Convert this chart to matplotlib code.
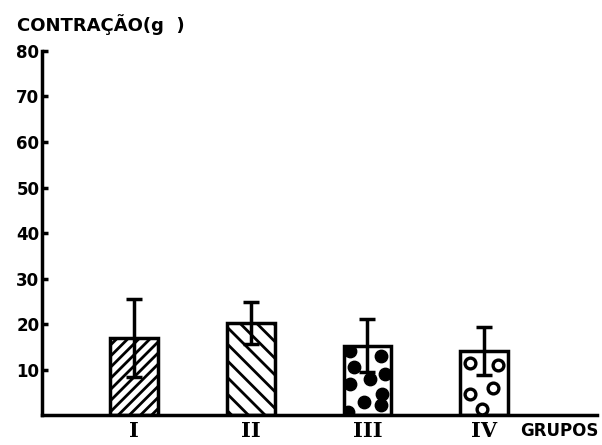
import numpy as np
import matplotlib
matplotlib.use("Agg")
import matplotlib.pyplot as plt

groups = ["I", "II", "III", "IV"]
means = [17.0, 20.2, 15.2, 14.0]
errors = [8.6, 4.6, 5.8, 5.3]
hatches = ["///", "\\\\", "", ""]

yticks = [10, 20, 30, 40, 50, 60, 70, 80]

plt.rcParams["hatch.linewidth"] = 2.0
INK = "black"

fig = plt.figure(figsize=(6.02, 4.45), dpi=100, facecolor="white")
ax = fig.add_axes([0.070, 0.0674, 0.922, 0.818])

x = np.arange(1, len(groups) + 1)
bars = ax.bar(x, means, width=0.41, color="white", edgecolor=INK,
              linewidth=2.5, hatch=hatches, zorder=2)

# dot patterns inside bars III and IV (fractions of bar width / height)
fill_fx = [0.13, 0.79, 0.21, 0.87, 0.56, 0.14, 0.80, 0.42, 0.79, 0.10]
fill_fy = [0.92, 0.86, 0.69, 0.60, 0.52, 0.45, 0.31, 0.19, 0.14, 0.04]
ring_fx = [0.21, 0.80, 0.21, 0.69, 0.45]
ring_fy = [0.82, 0.78, 0.33, 0.43, 0.10]

b3 = bars[2]
dots = ax.scatter([b3.get_x() + f * b3.get_width() for f in fill_fx],
                  [f * b3.get_height() for f in fill_fy],
                  s=80, color=INK, zorder=3)
dots.set_clip_path(b3)

b4 = bars[3]
rings = ax.scatter([b4.get_x() + f * b4.get_width() for f in ring_fx],
                   [f * b4.get_height() for f in ring_fy],
                   s=60, facecolor="white", edgecolor=INK, linewidth=2.4, zorder=3)
rings.set_clip_path(b4)

ax.errorbar(x, means, yerr=errors, fmt="none", ecolor=INK, elinewidth=2.5,
            capsize=6, capthick=2.5, zorder=4)

ax.set_xlim(0.21, 4.97)
ax.set_ylim(0, 80)
ax.set_yticks(yticks)
ax.set_yticklabels([str(t) for t in yticks], fontsize=12, fontweight="bold")
ax.tick_params(axis="y", direction="in", length=4, width=2.5, pad=2)
ax.set_xticks(x)
ax.set_xticklabels(groups, fontsize=15, fontweight="bold", family="DejaVu Serif")
ax.tick_params(axis="x", length=0, pad=4)

for s in ["top", "right"]:
    ax.spines[s].set_visible(False)
ax.spines["left"].set_linewidth(2.5)
ax.spines["bottom"].set_linewidth(2.5)

fig.text(0.028, 0.944, "CONTRAÇÃO(g  )", fontsize=13, fontweight="bold",
         ha="left", va="center")
ax.text(0.862, -0.045, "GRUPOS", transform=ax.transAxes, fontsize=12,
        fontweight="bold", ha="left", va="center")

fig.savefig("out.png", dpi=100, facecolor="white")
